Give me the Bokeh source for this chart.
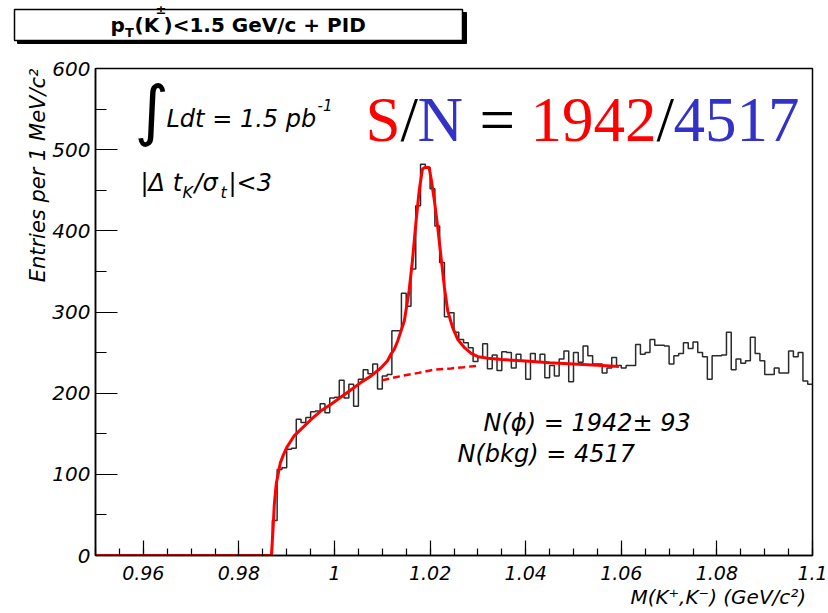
import numpy as np
from bokeh.plotting import figure
from bokeh.models import Range1d, FixedTicker, CustomJSTickFormatter, Label, Title
from bokeh.layouts import column
from bokeh.embed import file_html
from bokeh.resources import INLINE

# ---------------- data ----------------
# histogram: 1 MeV/c^2 bins from 0.950 to 1.100 GeV/c^2
bin_start = 0.950
bin_width = 0.001
counts = [0, 0, 0, 0, 0, 0, 0, 0, 0, 0, 0, 0, 0, 0, 0, 0, 0, 0, 0, 0,
          0, 0, 0, 0, 0, 0, 0, 0, 0, 0, 0, 0, 0, 0, 0, 0, 0,
          43, 106, 108, 131, 132, 168, 164, 170, 177, 178, 187, 176, 194,
          195, 216, 194, 211, 184, 217, 229, 224, 236, 205, 221, 223,
          277, 277, 323, 307, 353, 431, 482, 478, 452, 406, 361, 294, 299,
          275, 266, 262, 256, 239, 244, 261, 230, 247, 228,
          251, 250, 231, 248, 240, 217, 249, 238, 248, 219,
          234, 221, 242, 252, 214, 250, 238, 258, 246, 236,
          236, 225, 231, 244, 234, 231, 234, 234, 260, 248,
          250, 266, 259, 259, 258, 236, 246, 249, 262, 255,
          263, 250, 245, 217, 246, 246, 247, 275, 229, 242,
          237, 240, 269, 249, 240, 223, 223, 231, 225, 225,
          252, 245, 250, 215, 211]

# total fit (signal + background)
fit_mass = [0.9500, 0.9868, 0.98712, 0.9874, 0.9878, 0.9883, 0.98866, 0.9893,
            0.9901, 0.9915, 0.9929, 0.9950, 0.9971, 0.9992, 1.0013, 1.0034,
            1.0055, 1.0076, 1.0097, 1.0111, 1.0118, 1.0125, 1.0132, 1.0146,
            1.0156, 1.0163, 1.0170, 1.0177, 1.0184, 1.0188, 1.0198, 1.0203,
            1.0209, 1.0216, 1.0223, 1.0230, 1.0237, 1.0247, 1.0258, 1.0272,
            1.0286, 1.0300, 1.0321, 1.0350, 1.0400, 1.0450, 1.0500, 1.0550,
            1.0595]
fit_counts = [0, 0, 30, 62, 88, 103, 114, 124,
              134, 147, 155, 167, 178, 186, 195, 204,
              213, 221, 231, 240, 248, 254, 264, 289,
              326, 363, 408, 449, 476, 478, 478, 461,
              437, 404, 367, 330, 301, 281, 266, 256,
              249, 245, 243, 241.5, 239.5, 237.5, 236, 234.5,
              233]

# background component (dashed)
bkg_mass = [1.0100, 1.0139, 1.0176, 1.0209, 1.0244, 1.0270, 1.0303]
bkg_counts = [216, 221, 225, 229, 230.5, 232, 234]

x_major = [0.96, 0.98, 1.0, 1.02, 1.04, 1.06, 1.08, 1.1]
x_minor_step = 0.005
y_major = [0, 100, 200, 300, 400, 500, 600]
y_minor = [50, 150, 250, 350, 450, 550]

signal, signal_err, background = 1942, 93, 4517

# ---------------- layout constants (page pixels) ----------------
W, H = 828, 613
TITLE_H = 50
FL, FR, FT, FB = 95, 812, 68, 555
X0, X1, Y0, Y1 = 0.95, 1.10, 0, 600
BASE_SHIFT = 0.36   # baseline correction, fraction of font size

def dx(px):
    return X0 + (px - FL) * (X1 - X0) / (FR - FL)

def dy(py):
    return Y0 + (FB - py) * (Y1 - Y0) / (FB - FT)

FONT = "DejaVu Sans"

# ---------------- title strip ----------------
t = figure(width=W, height=TITLE_H, x_range=Range1d(0, W), y_range=Range1d(TITLE_H, 0),
           min_border=0, toolbar_location=None, output_backend="svg", frame_align=False)
t.axis.visible = False
t.grid.visible = False
t.outline_line_color = None
t.background_fill_color = "white"
t.border_fill_color = "white"
t.quad(left=17, right=466, top=12, bottom=43, fill_color="black", line_color="black")
t.quad(left=14, right=462, top=9, bottom=40, fill_color="white", line_color="black", line_width=1.5)

def tlab(px, py, text, size, style="bold"):
    t.add_layout(Label(x=px, y=py - BASE_SHIFT * size, text=text, text_font=FONT,
                       text_font_size=f"{size}px", text_font_style=style,
                       text_color="black", text_align="left", text_baseline="alphabetic"))

tlab(110, 32, "p", 20)
tlab(124.5, 37, "T", 13)
tlab(134, 32, "(K", 20)
tlab(155, 14, "\u00b1", 13)
tlab(163, 32, ")<1.5 GeV/c + PID", 20)

# ---------------- main plot ----------------
p = figure(width=W, height=H - TITLE_H, x_range=Range1d(X0, X1), y_range=Range1d(Y0, Y1),
           min_border_left=FL, min_border_right=W - FR,
           min_border_top=FT - TITLE_H, min_border_bottom=H - FB,
           toolbar_location=None, output_backend="svg", frame_align=False)
p.background_fill_color = "white"
p.border_fill_color = "white"
p.grid.visible = False
p.outline_line_color = "black"
p.outline_line_width = 1.5

edges = bin_start + bin_width * np.arange(len(counts) + 1)
p.step(edges, counts + [counts[-1]], mode="after", line_color="#2b2b2b", line_width=1.5)
p.line(bkg_mass, bkg_counts, line_color="#ff0000", line_width=2.5, line_dash="7 4")
p.line(fit_mass, fit_counts, line_color="#ff0000", line_width=3)

n_minor = int(round((X1 - X0) / x_minor_step)) + 1
x_minor = [round(X0 + i * x_minor_step, 3) for i in range(n_minor)]

xa = p.xaxis[0]
xa.ticker = FixedTicker(ticks=x_major, minor_ticks=x_minor)
xa.formatter = CustomJSTickFormatter(code="return String(parseFloat(tick.toFixed(3)));")
ya = p.yaxis[0]
ya.ticker = FixedTicker(ticks=y_major, minor_ticks=y_minor)

for ax, tin, standoff, fs in ((xa, 15, 10, "19px"), (ya, 22, 5, "20px")):
    ax.axis_line_color = "black"
    ax.axis_line_width = 1.5
    ax.major_tick_in = tin
    ax.major_tick_out = 0
    ax.minor_tick_in = tin // 2
    ax.minor_tick_out = 0
    ax.major_tick_line_color = "black"
    ax.minor_tick_line_color = "black"
    ax.major_tick_line_width = 1.2
    ax.minor_tick_line_width = 1.2
    ax.major_label_text_font = FONT
    ax.major_label_text_font_style = "italic"
    ax.major_label_text_font_size = fs
    ax.major_label_text_color = "black"
    ax.major_label_standoff = standoff

# axis titles (side-panel titles, aligned to the frame end like ROOT)
p.add_layout(Title(text="Entries per 1 MeV/c\u00b2", align="right", text_font=FONT,
                   text_font_style="italic", text_font_size="21px",
                   text_color="black", standoff=0), "left")
p.add_layout(Title(text="M(K\u207a,K\u207b)  (GeV/c\u00b2)", align="right", text_font=FONT,
                   text_font_style="italic", text_font_size="20px",
                   text_color="black", standoff=0), "below")

def lab(px, py, text, size, color="black", font=FONT, style="italic",
        align="left", angle=0.0):
    p.add_layout(Label(x=dx(px), y=dy(py - BASE_SHIFT * size), text=text, text_font=font,
                       text_font_size=f"{size}px", text_font_style=style,
                       text_color=color, text_align=align, text_baseline="alphabetic",
                       angle=angle))

# luminosity and cut
lab(134, 134, "\u222b", 66, style="normal")
lab(166, 127, "Ldt = 1.5 pb", 24)
lab(317, 110, "-1", 15)
lab(140, 191, "|\u0394 t", 24)
lab(182, 198, "K", 16)
lab(194, 191, "/\u03c3", 24)
lab(220, 198, "t", 16)
lab(228, 191, "|<3", 24)

# S/N in serif
RED, BLUE = "#ff0000", "#3232c8"
SERIF = "Liberation Serif"
for px, txt, col in ((365, "S", RED), (400, "/", "black"), (417, "N", BLUE),
                     (479, "=", "black"), (530, str(signal), RED),
                     (656, "/", "black"), (673, str(background), BLUE)):
    lab(px, 142, txt, 63, color=col, font=SERIF, style="normal")

# fit results
lab(483, 431, f"N(\u03d5) =  {signal}\u00b1 {signal_err}", 24)
lab(457, 462, f"N(bkg) =  {background}", 24)

layout = column(t, p, spacing=0)
open("out.html", "w").write(file_html(layout, INLINE))
